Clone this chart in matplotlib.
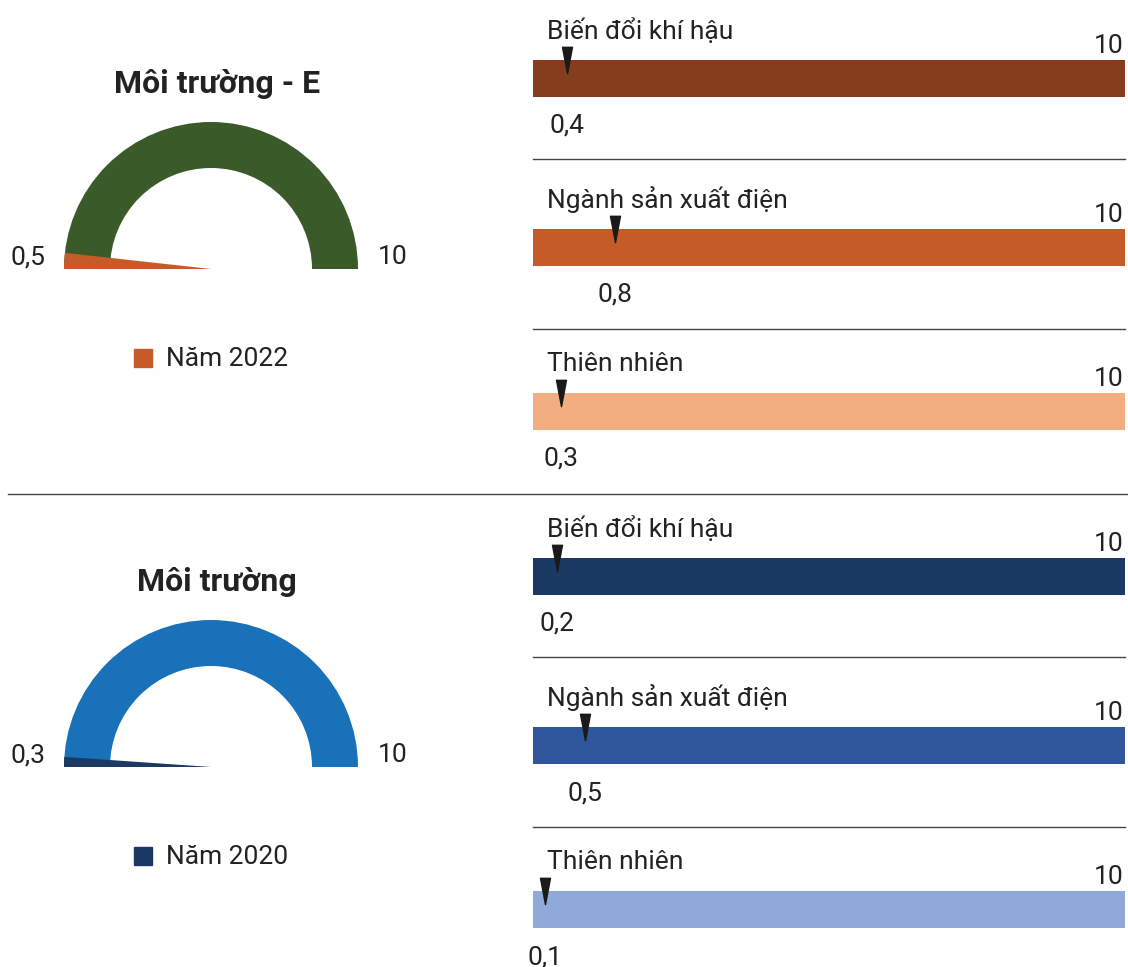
import numpy as np
import matplotlib
matplotlib.use("Agg")
import matplotlib.pyplot as plt
from matplotlib.patches import Wedge, Rectangle
from matplotlib.lines import Line2D
from matplotlib.path import Path

plt.rcParams['font.family'] = ['Roboto', 'DejaVu Sans']

W, H = 1128, 967
TXT = "#222222"
FS = 19

# --- data ---
panel_titles = ["Môi trường - E", "Môi trường"]
years = ["Năm 2022", "Năm 2020"]
gauge_scores = [0.5, 0.3]          # printed score
gauge_needle = [0.35, 0.22]        # needle position as drawn in the picture
gauge_max = 10

categories = ["Biến đổi khí hậu", "Ngành sản xuất điện", "Thiên nhiên"]
scores_2022 = [0.4, 0.8, 0.3]
scores_2020 = [0.2, 0.5, 0.1]
# marker positions as drawn (0-10 scale of the bar)
marker_2022 = [0.57, 1.38, 0.48]
marker_2020 = [0.41, 0.88, 0.21]
bar_max = 10

gauge_colors = ["#3B5A2A", "#1871B9"]
needle_colors = ["#C45B28", "#1B3A63"]
bar_colors_2022 = ["#853D1E", "#C45B28", "#F2AE80"]
bar_colors_2020 = ["#1B3A63", "#2F559B", "#8FAAD8"]

fig = plt.figure(figsize=(W / 100, H / 100), dpi=100)


def fx(x):
    return x / W


def fy(y):
    return 1 - y / H


def hline(x0, x1, y, color="#444444", lw=1.0):
    fig.add_artist(Line2D([fx(x0), fx(x1)], [fy(y), fy(y)], color=color, lw=lw,
                          transform=fig.transFigure))


def fmt(v):
    return f"{v:.1f}".replace(".", ",")


def draw_gauge(top, score, needle, gcolor, ncolor, title, year):
    # gauge centre at (211, top + 147)
    cy = top + 147
    ax = fig.add_axes([fx(64), fy(cy), fx(294), 147 / H])
    ax.set_xlim(-1, 1)
    ax.set_ylim(0, 1)
    ax.axis("off")
    r_in = 101 / 147
    ax.add_patch(Wedge((0, 0), 1, 0, 180, width=1 - r_in, color=gcolor, lw=0))
    ang = needle / gauge_max * 180
    ax.add_patch(Wedge((0, 0), 1, 180 - ang, 180, color=ncolor, lw=0))
    fig.text(fx(10), fy(cy - 12), fmt(score), fontsize=FS, color=TXT, va="center", ha="left")
    fig.text(fx(378), fy(cy - 12), str(gauge_max), fontsize=FS, color=TXT, va="center", ha="left")
    fig.text(fx(217), fy(top - 38), title, fontsize=23, fontweight="bold", color=TXT,
             ha="center", va="center")
    # legend
    fig.add_artist(Rectangle((fx(134), fy(cy + 98)), fx(18), 18 / H, color=ncolor,
                             transform=fig.transFigure))
    fig.text(fx(166), fy(cy + 90), year, fontsize=FS, color=TXT, va="center", ha="left")


tri = Path([(-0.19, 0.5), (0.19, 0.5), (0, -0.5), (-0.19, 0.5)],
           [Path.MOVETO, Path.LINETO, Path.LINETO, Path.CLOSEPOLY])


def draw_bar(top, cat, score, pos, color):
    ax = fig.add_axes([fx(533), fy(top + 37), fx(592), 37 / H])
    ax.set_xlim(0, bar_max)
    ax.set_ylim(0, 1)
    ax.axis("off")
    ax.barh(0.5, bar_max, height=1, color=color, lw=0)
    ax.plot([pos], [1], marker=tri, markersize=19, color="#1a1a1a", clip_on=False, lw=0)
    ax.annotate(fmt(score), xy=(pos, 0), xycoords=("data", "axes fraction"),
                xytext=(0, -29), textcoords="offset pixels", ha="center", va="center",
                fontsize=FS, color=TXT)
    fig.text(fx(547), fy(top - 29), cat, fontsize=FS, color=TXT, va="center", ha="left")
    fig.text(fx(1124), fy(top - 14), str(bar_max), fontsize=FS, color=TXT, va="center", ha="right")


draw_gauge(122, gauge_scores[0], gauge_needle[0], gauge_colors[0], needle_colors[0],
           panel_titles[0], years[0])
draw_gauge(620, gauge_scores[1], gauge_needle[1], gauge_colors[1], needle_colors[1],
           panel_titles[1], years[1])

tops_2022 = [60, 229, 393]
tops_2020 = [558, 727, 891]
for i in range(3):
    draw_bar(tops_2022[i], categories[i], scores_2022[i], marker_2022[i], bar_colors_2022[i])
    draw_bar(tops_2020[i], categories[i], scores_2020[i], marker_2020[i], bar_colors_2020[i])

for y in [159, 329, 657, 827]:
    hline(533, 1125, y)
hline(8, 1128, 494)

fig.savefig("out.png", dpi=100)
